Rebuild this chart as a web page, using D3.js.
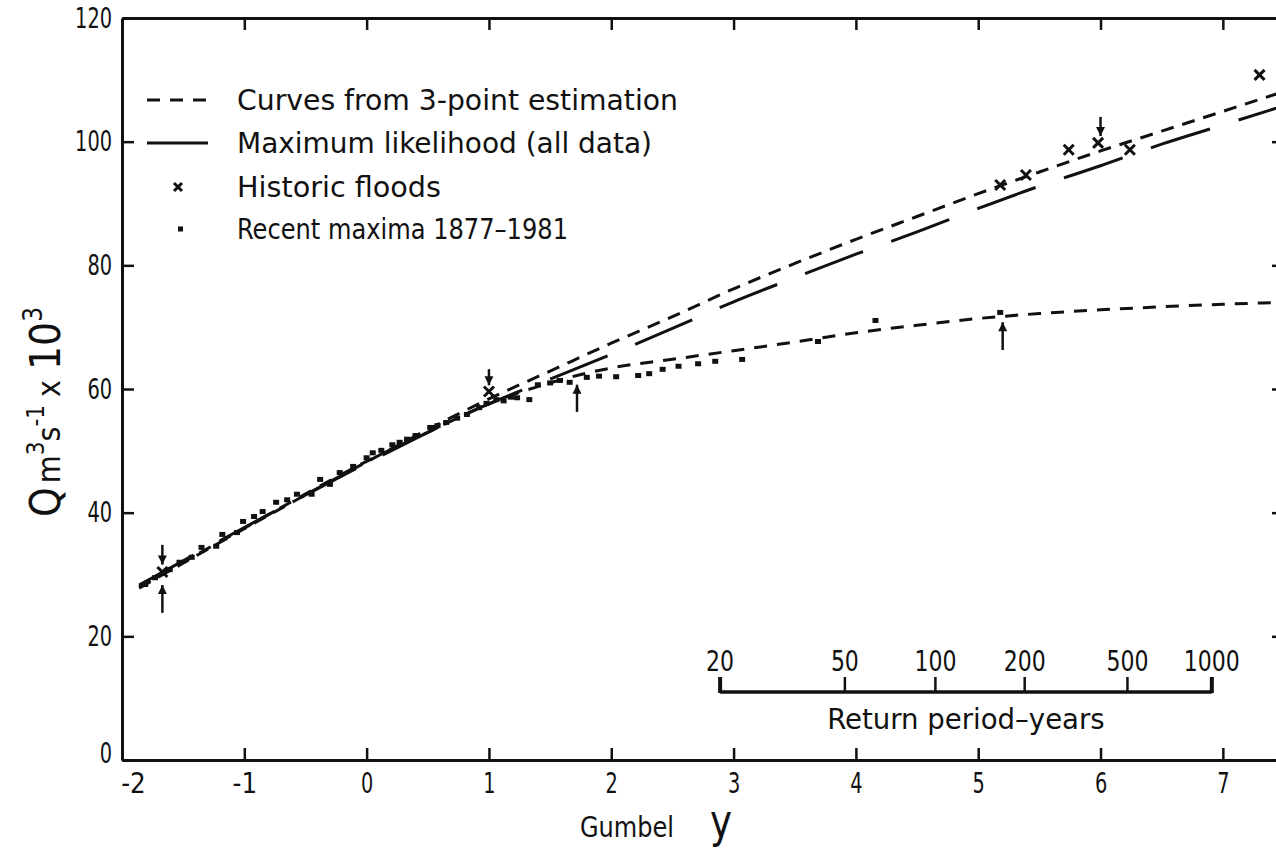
<!DOCTYPE html>
<html>
<head>
  <meta charset="utf-8">
  <title>Gumbel plot</title>
  <script type="text/javascript" src="https://d3js.org/d3.v7.min.js"></script>
  <style>
    body { margin: 0; background: #fff; }
    text { font-family: "Liberation Sans Narrow", "DejaVu Sans Condensed", sans-serif; fill: #111; }
  </style>
</head>
<body>
  <div id="container"></div>
  <script type="text/javascript">
    // Gumbel reduced variate y, discharge Q (m3/s x 10^3)
    var upperY = [-1.86, -1, 0, 1, 1.5, 2, 2.5, 3, 3.5, 4, 4.5, 5, 5.5, 6, 6.5, 7, 7.45];
    var upperQ = [27.8, 37.4, 48.2, 58.4, 62.9, 67.4, 71.7, 76.2, 80.3, 84.2, 87.9, 91.6, 95.1, 98.5, 101.7, 104.9, 107.8];

    var mlY = [-1.86, -1, 0, 1, 1.5, 2, 2.5, 3, 3.5, 4, 4.5, 5, 5.5, 6, 6.5, 7, 7.45];
    var mlQ = [28.3, 37.6, 48.0, 57.6, 61.6, 65.6, 69.8, 74.1, 78.0, 81.8, 85.4, 89.2, 92.8, 96.1, 99.6, 102.7, 105.5];

    var lowerY = [-1.86, -1, 0, 0.5, 1, 1.5, 2, 2.5, 3, 3.5, 4, 4.5, 5, 5.5, 6, 6.5, 7, 7.45];
    var lowerQ = [28.0, 37.5, 48.3, 53.0, 57.6, 61.0, 63.4, 64.8, 66.2, 67.6, 69.1, 70.3, 71.4, 72.2, 72.8, 73.3, 73.7, 74.0];

    var recentY = [-1.81, -1.73, -1.61, -1.53, -1.43, -1.35, -1.23, -1.18, -1.06, -1.01, -0.92, -0.85, -0.74, -0.65,
      -0.57, -0.45, -0.38, -0.30, -0.22, -0.11, 0.00, 0.05, 0.12, 0.21, 0.27, 0.33, 0.40, 0.52, 0.58, 0.65, 0.74,
      0.82, 0.92, 0.98, 1.06, 1.12, 1.18, 1.23, 1.33, 1.40, 1.50, 1.58, 1.66, 1.80, 1.90, 2.04, 2.22, 2.31, 2.42,
      2.55, 2.71, 2.85, 3.07, 3.69, 4.16, 5.18];
    var recentQ = [28.3, 29.4, 30.7, 31.9, 32.7, 34.3, 34.5, 36.4, 36.7, 38.5, 39.3, 40.1, 41.6, 42.0,
      42.9, 42.9, 45.3, 44.5, 46.4, 47.4, 48.8, 49.6, 50.0, 50.9, 51.3, 51.8, 52.4, 53.7, 54.0, 54.5, 55.2,
      55.8, 56.9, 57.6, 58.2, 58.0, 58.6, 58.5, 58.2, 60.6, 60.9, 61.3, 61.0, 61.8, 62.0, 61.9, 62.1, 62.4, 63.1,
      63.6, 64.0, 64.4, 64.7, 67.6, 71.0, 72.3];

    var historicY = [-1.67, 1.0, 5.18, 5.39, 5.74, 5.98, 6.24, 7.30];
    var historicQ = [30.4, 59.6, 93.0, 94.6, 98.7, 99.8, 98.7, 110.8];

    // arrows marking the three estimation points
    var arrowY = [-1.67, -1.67, 1.0, 1.72, 5.2, 6.0];
    var arrowTail = [34.8, 23.8, 63.2, 56.3, 66.3, 104.0];
    var arrowTip = [31.6, 28.3, 60.6, 60.7, 70.8, 100.9];

    var xTicks = [-2, -1, 0, 1, 2, 3, 4, 5, 6, 7];
    var qTicks = [0, 20, 40, 60, 80, 100, 120];

    var returnPeriods = [20, 50, 100, 200, 500, 1000];
    var returnPos = [2.89, 3.91, 4.65, 5.38, 6.22, 6.91];

    var legendLabels = ['Curves from 3-point estimation', 'Maximum likelihood (all data)', 'Historic floods', 'Recent maxima 1877\u20131981'];

    var width = 1276, height = 849;
    var ink = '#111';

    var svg = d3.select('#container').append('svg')
      .attr('width', width)
      .attr('height', height);

    var x = d3.scaleLinear().domain([-2, 7.5]).range([122, 1284]);
    var y = d3.scaleLinear().domain([0, 120]).range([760, 18]);

    // squeeze the glyphs so the lettering is as narrow as the original stencil
    function condense(sel, perChar) {
      sel.attr('textLength', function () { return this.textContent.length * perChar; })
        .attr('lengthAdjust', 'spacingAndGlyphs');
    }

    function styleAxis(g) {
      g.select('.domain').attr('stroke', ink).attr('stroke-width', 3);
      g.selectAll('.tick line').attr('stroke', ink).attr('stroke-width', 2.5);
      g.selectAll('.tick text')
        .style('font-size', '29px')
        .attr('fill', ink)
        .call(condense, 12.3);
    }

    // axes
    svg.append('g')
      .attr('transform', `translate(0,${y(0)})`)
      .call(d3.axisBottom(x).tickValues(xTicks).tickSizeInner(-12).tickSizeOuter(0).tickPadding(12)
        .tickFormat(d => d < 0 ? '-' + Math.abs(d) : d))
      .call(styleAxis)
      .selectAll('.tick text')
      .attr('dx', d => d === -2 ? 11 : 0);

    svg.append('g')
      .attr('transform', `translate(0,${y(120)})`)
      .call(d3.axisTop(x).tickValues(xTicks.slice(1)).tickSizeInner(-12).tickSizeOuter(0).tickFormat(''))
      .call(styleAxis);

    svg.append('g')
      .attr('transform', `translate(${x(-2)},0)`)
      .call(d3.axisLeft(y).tickValues(qTicks).tickSizeInner(-12).tickSizeOuter(0).tickPadding(10))
      .call(styleAxis)
      .selectAll('.tick text')
      .attr('dy', d => d === 0 ? '0.1em' : '0.32em');

    svg.append('g')
      .attr('transform', `translate(${x(7.5)},0)`)
      .call(d3.axisRight(y).tickValues(qTicks).tickSizeInner(-12).tickSizeOuter(0).tickFormat(''))
      .call(styleAxis);

    // curves
    var line = d3.line()
      .x(d => x(d[0]))
      .y(d => y(d[1]))
      .curve(d3.curveMonotoneX);

    function drawCurve(ys, qs, dash) {
      svg.append('path')
        .datum(ys.map((v, i) => [v, qs[i]]))
        .attr('d', line)
        .attr('fill', 'none')
        .attr('stroke', ink)
        .attr('stroke-width', 3)
        .attr('stroke-dasharray', dash);
    }
    drawCurve(mlY, mlQ, '62,30');
    drawCurve(upperY, upperQ, '13,9');
    drawCurve(lowerY, lowerQ, '13,10');

    // recent maxima
    svg.append('g').selectAll('rect')
      .data(recentY.map((v, i) => [v, recentQ[i]]))
      .enter().append('rect')
      .attr('x', d => x(d[0]) - 3)
      .attr('y', d => y(d[1]) - 3)
      .attr('width', 6)
      .attr('height', 5)
      .attr('fill', ink);

    // historic floods
    svg.append('g').selectAll('path')
      .data(historicY.map((v, i) => [v, historicQ[i]]))
      .enter().append('path')
      .attr('d', d => `M${x(d[0]) - 5},${y(d[1]) - 5}L${x(d[0]) + 5},${y(d[1]) + 5}M${x(d[0]) - 5},${y(d[1]) + 5}L${x(d[0]) + 5},${y(d[1]) - 5}`)
      .attr('stroke', ink)
      .attr('stroke-width', 3);

    // arrows
    var arrows = svg.append('g').selectAll('g')
      .data(arrowY.map((v, i) => ({ y: v, tail: arrowTail[i], tip: arrowTip[i] })))
      .enter().append('g');
    arrows.append('line')
      .attr('x1', d => x(d.y)).attr('x2', d => x(d.y))
      .attr('y1', d => y(d.tail)).attr('y2', d => y(d.tip))
      .attr('stroke', ink)
      .attr('stroke-width', 2.5);
    arrows.append('path')
      .attr('d', function (d) {
        var px = x(d.y), py = y(d.tip), s = d.tip > d.tail ? 1 : -1;
        return `M${px},${py} L${px - 4.5},${py + s * 9} L${px + 4.5},${py + s * 9} Z`;
      })
      .attr('fill', ink);

    // legend
    var legend = svg.append('g').attr('transform', 'translate(147,0)');
    var rows = [100, 143, 187, 229];
    var labelWidths = [441, 415, 204, 331];
    legend.append('line')
      .attr('x1', 0).attr('x2', 61).attr('y1', rows[0]).attr('y2', rows[0])
      .attr('stroke', ink).attr('stroke-width', 3).attr('stroke-dasharray', '13,10');
    legend.append('line')
      .attr('x1', 0).attr('x2', 61).attr('y1', rows[1]).attr('y2', rows[1])
      .attr('stroke', ink).attr('stroke-width', 3);
    legend.append('path')
      .attr('d', `M${31 - 4},${rows[2] - 4}L${31 + 4},${rows[2] + 4}M${31 - 4},${rows[2] + 4}L${31 + 4},${rows[2] - 4}`)
      .attr('stroke', ink).attr('stroke-width', 3);
    legend.append('rect')
      .attr('x', 31).attr('y', rows[3] - 2.5).attr('width', 5).attr('height', 5)
      .attr('fill', ink);
    legend.selectAll('text.lab')
      .data(legendLabels)
      .enter().append('text')
      .attr('class', 'lab')
      .attr('x', 90)
      .attr('y', (d, i) => rows[i] + 10)
      .style('font-size', '29px')
      .attr('textLength', (d, i) => labelWidths[i])
      .attr('lengthAdjust', 'spacingAndGlyphs')
      .text(d => d);

    // return period scale
    var rp = svg.append('g');
    rp.append('line')
      .attr('x1', x(returnPos[0])).attr('x2', x(returnPos[returnPos.length - 1]))
      .attr('y1', 692).attr('y2', 692)
      .attr('stroke', ink).attr('stroke-width', 3.5);
    rp.selectAll('line.tk')
      .data(returnPos)
      .enter().append('line')
      .attr('class', 'tk')
      .attr('x1', d => x(d)).attr('x2', d => x(d))
      .attr('y1', 693).attr('y2', 677)
      .attr('stroke', ink)
      .attr('stroke-width', (d, i) => (i === 0 || i === returnPos.length - 1) ? 4 : 2.5);
    rp.selectAll('text.tl')
      .data(returnPeriods)
      .enter().append('text')
      .attr('class', 'tl')
      .attr('x', (d, i) => x(returnPos[i]))
      .attr('y', 671)
      .attr('text-anchor', 'middle')
      .style('font-size', '29px')
      .text(d => d)
      .call(condense, 14);
    rp.append('text')
      .attr('x', (x(returnPos[0]) + x(returnPos[returnPos.length - 1])) / 2)
      .attr('y', 729)
      .attr('text-anchor', 'middle')
      .style('font-size', '29px')
      .text('Return period\u2013years')
      .call(condense, 14.6);

    // axis titles
    var gx = svg.append('text')
      .attr('x', 580)
      .attr('y', 837);
    gx.append('tspan').style('font-size', '28px').attr('textLength', 94).attr('lengthAdjust', 'spacingAndGlyphs').text('Gumbel');
    gx.append('tspan').attr('dx', 36).style('font-size', '46px').attr('textLength', 22).attr('lengthAdjust', 'spacingAndGlyphs').text('y');

    var qt = svg.append('text')
      .attr('transform', 'translate(60,412) rotate(-90)')
      .attr('text-anchor', 'middle');
    qt.append('tspan').style('font-size', '42px').text('Q');
    qt.append('tspan').attr('dx', 4).style('font-size', '32px').text('m');
    qt.append('tspan').attr('dy', -16).style('font-size', '24px').text('3');
    qt.append('tspan').attr('dy', 16).style('font-size', '32px').text('s');
    qt.append('tspan').attr('dy', -16).style('font-size', '24px').text('-1');
    qt.append('tspan').attr('dy', 16).attr('dx', 8).style('font-size', '32px').text('x');
    qt.append('tspan').attr('dx', 10).style('font-size', '42px').text('10');
    qt.append('tspan').attr('dy', -18).style('font-size', '26px').text('3');
  </script>
</body>
</html>
